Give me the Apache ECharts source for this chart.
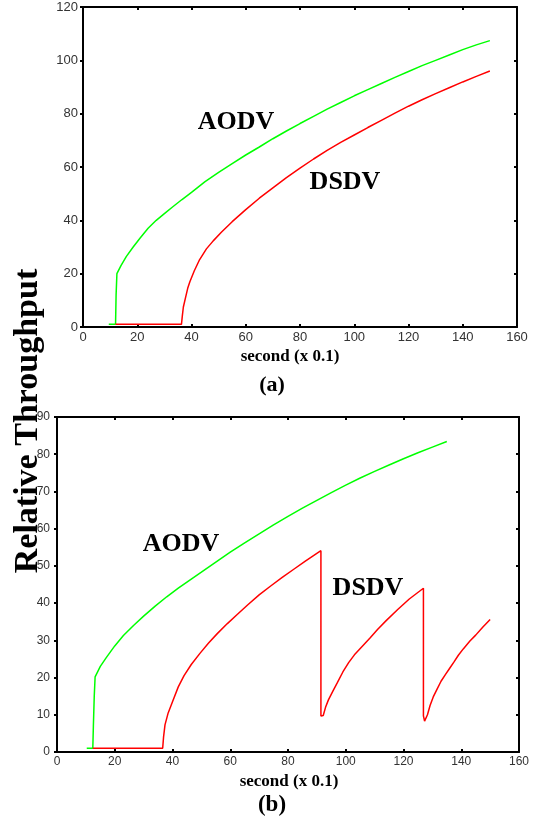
<!DOCTYPE html>
<html>
<head>
<meta charset="utf-8">
<script src="https://cdn.jsdelivr.net/npm/echarts@6/dist/echarts.min.js"></script>
<style>
  html, body { margin: 0; padding: 0; background: #fff; }
  #chart { width: 535px; height: 820px; }
</style>
</head>
<body>
<div id="chart"></div>
<script>
// Panel (a): throughput over time, [second x 0.1, relative throughput]
const aodvA = [
  [9.5, 1], [12, 1], [12.2, 12], [12.5, 20], [14, 23], [16, 26.5], [18.5, 30],
  [21, 33.3], [24, 37], [27, 40], [30, 42.5], [33, 45], [36.5, 47.8],
  [40, 50.5], [45, 54.5], [50, 58], [55, 61.3], [60, 64.5], [65, 67.5],
  [70, 70.6], [75, 73.5], [80, 76.3], [85, 79], [90, 81.7], [95, 84.2],
  [100, 86.7], [105, 89], [110, 91.3], [115, 93.6], [120, 95.8], [125, 98],
  [130, 100], [135, 102], [140, 104], [145, 105.8], [150, 107.4]
];
const dsdvA = [
  [12, 1], [36.3, 1], [36.6, 4], [37, 7.5], [37.8, 11], [38.6, 14.5],
  [39.4, 17], [41, 21], [43, 25.3], [45.5, 29.3], [48, 32.3], [51, 35.5],
  [55, 39.5], [60, 44], [65, 48.3], [70, 52.2], [75, 56], [80, 59.6],
  [85, 63], [90, 66.2], [95, 69.2], [100, 72], [105, 74.8], [110, 77.5],
  [115, 80.2], [120, 82.8], [125, 85.2], [130, 87.5], [135, 89.7],
  [140, 91.9], [145, 94], [150, 96]
];

// Panel (b): DSDV drops back twice
const aodvB = [
  [10.3, 1], [12.4, 1], [12.6, 7], [12.9, 15], [13.2, 20.2], [15, 23],
  [17, 25.3], [20, 28.5], [23, 31.3], [26.5, 34], [30, 36.5], [34, 39.2],
  [38, 41.7], [42, 44], [46, 46.2], [50, 48.3], [55, 51], [60, 53.7],
  [65, 56.2], [70, 58.6], [75, 61], [80, 63.3], [85, 65.5], [90, 67.6],
  [95, 69.7], [100, 71.7], [105, 73.6], [110, 75.4], [115, 77.1],
  [120, 78.8], [125, 80.4], [130, 81.9], [135, 83.4]
];
const dsdvB = [
  [12.4, 1], [36.6, 1], [36.9, 4], [37.4, 7.3], [38.5, 10.5], [40, 13.5],
  [42, 17.5], [44, 20.5], [46.5, 23.5], [49.5, 26.5], [52.5, 29.3],
  [55.5, 31.8], [59, 34.5], [62.5, 37], [66, 39.5], [70, 42.2], [74, 44.6],
  [78, 46.9], [82, 49.1], [86, 51.3], [91.4, 54.1],
  [91.4, 9.7], [92.2, 9.8], [93, 12], [94, 14], [95.5, 16.3], [97, 18.5],
  [99, 21.5], [101, 24], [103, 26.1], [105.5, 28.2], [108.4, 30.6],
  [111, 32.9], [114, 35.3], [118, 38.3], [122, 41.1], [126.9, 44],
  [126.9, 9.7], [127.3, 8.3], [127.7, 7.9], [128.3, 10], [129.2, 12.5],
  [130.3, 14.8], [131.5, 16.7], [133, 19], [134.5, 20.8], [136, 22.5],
  [137.5, 24.2], [139, 26], [140.7, 27.7], [143, 29.8], [145, 31.4],
  [147.5, 33.6], [150, 35.6]
];

// Axis ranges and steps
const xRange = [0, 160, 20];
const yRangeA = [0, 120, 20];
const yRangeB = [0, 90, 10];

const seriesNames = ['AODV', 'DSDV'];
const xTitle = 'second (x 0.1)';
const yTitle = 'Relative Throughput';
const panelTags = ['(a)', '(b)'];

const AXIS_COLOR = '#000';
const LABEL_COLOR = '#333';
const SERIF = '"Liberation Serif", "DejaVu Serif", serif';
const SANS = '"Liberation Sans", Arial, sans-serif';

function lineStyle() {
  return { color: AXIS_COLOR, width: 2 };
}

function bottomX(gridIndex, fontSize) {
  return {
    type: 'value', gridIndex, position: 'bottom',
    min: xRange[0], max: xRange[1], interval: xRange[2],
    axisLine: { show: true, onZero: false, lineStyle: lineStyle() },
    axisTick: { show: true, inside: true, length: 3, lineStyle: { width: 2, color: AXIS_COLOR } },
    axisLabel: { show: true, margin: 4, fontSize, fontFamily: SANS, color: LABEL_COLOR },
    splitLine: { show: false }
  };
}
function topX(gridIndex) {
  return {
    type: 'value', gridIndex, position: 'top',
    min: xRange[0], max: xRange[1], interval: xRange[2],
    axisLine: { show: true, onZero: false, lineStyle: lineStyle() },
    axisTick: { show: true, inside: true, length: 3, lineStyle: { width: 2, color: AXIS_COLOR } },
    axisLabel: { show: false },
    splitLine: { show: false }
  };
}
function leftY(gridIndex, range, fontSize, margin) {
  return {
    type: 'value', gridIndex, position: 'left',
    min: range[0], max: range[1], interval: range[2],
    axisLine: { show: true, onZero: false, lineStyle: lineStyle() },
    axisTick: { show: true, inside: false, length: 3, lineStyle: { width: 2, color: AXIS_COLOR } },
    axisLabel: { show: true, margin, fontSize, fontFamily: SANS, color: LABEL_COLOR },
    splitLine: { show: false }
  };
}
function rightY(gridIndex, range) {
  return {
    type: 'value', gridIndex, position: 'right',
    min: range[0], max: range[1], interval: range[2],
    axisLine: { show: true, onZero: false, lineStyle: lineStyle() },
    axisTick: { show: true, inside: true, length: 3, lineStyle: { width: 2, color: AXIS_COLOR } },
    axisLabel: { show: false },
    splitLine: { show: false }
  };
}

function curve(name, data, color, axisIdx, z) {
  return {
    type: 'line', name, data,
    xAxisIndex: axisIdx, yAxisIndex: axisIdx,
    showSymbol: false, symbol: 'none', smooth: false,
    lineStyle: { color, width: 1.5 },
    z, animation: false, silent: true
  };
}

function boldText(text, x, y, size, rotation) {
  return {
    type: 'text', x, y, rotation: rotation || 0,
    style: {
      text, fontFamily: SERIF, fontWeight: 'bold', fontSize: size,
      fill: '#000', align: 'center', verticalAlign: 'middle'
    }
  };
}

const chart = echarts.init(document.getElementById('chart'), null, { renderer: 'canvas' });
chart.setOption({
  backgroundColor: '#fff',
  animation: false,
  grid: [
    { left: 83, right: 18, top: 7, height: 320, containLabel: false, outerBoundsMode: 'none' },
    { left: 57, right: 16, top: 417, height: 335, containLabel: false, outerBoundsMode: 'none' }
  ],
  xAxis: [bottomX(0, 13), topX(0), bottomX(1, 12), topX(1)],
  yAxis: [leftY(0, yRangeA, 13, 5), rightY(0, yRangeA), leftY(1, yRangeB, 12, 7), rightY(1, yRangeB)],
  series: [
    curve(seriesNames[0], aodvA, '#00ff00', 0, 2),
    curve(seriesNames[1], dsdvA, '#ff0000', 0, 3),
    curve(seriesNames[0], aodvB, '#00ff00', 2, 2),
    curve(seriesNames[1], dsdvB, '#ff0000', 2, 3)
  ],
  graphic: [
    boldText(seriesNames[0], 236, 122, 26),
    boldText(seriesNames[1], 345, 182, 26),
    boldText(seriesNames[0], 181, 544, 26),
    boldText(seriesNames[1], 368, 588, 26),
    boldText(xTitle, 290, 357, 17),
    boldText(xTitle, 289, 782, 17),
    boldText(panelTags[0], 272, 385, 22),
    boldText(panelTags[1], 272, 805, 23),
    boldText(yTitle, 28, 421, 34, Math.PI / 2)
  ]
});
</script>
</body>
</html>
